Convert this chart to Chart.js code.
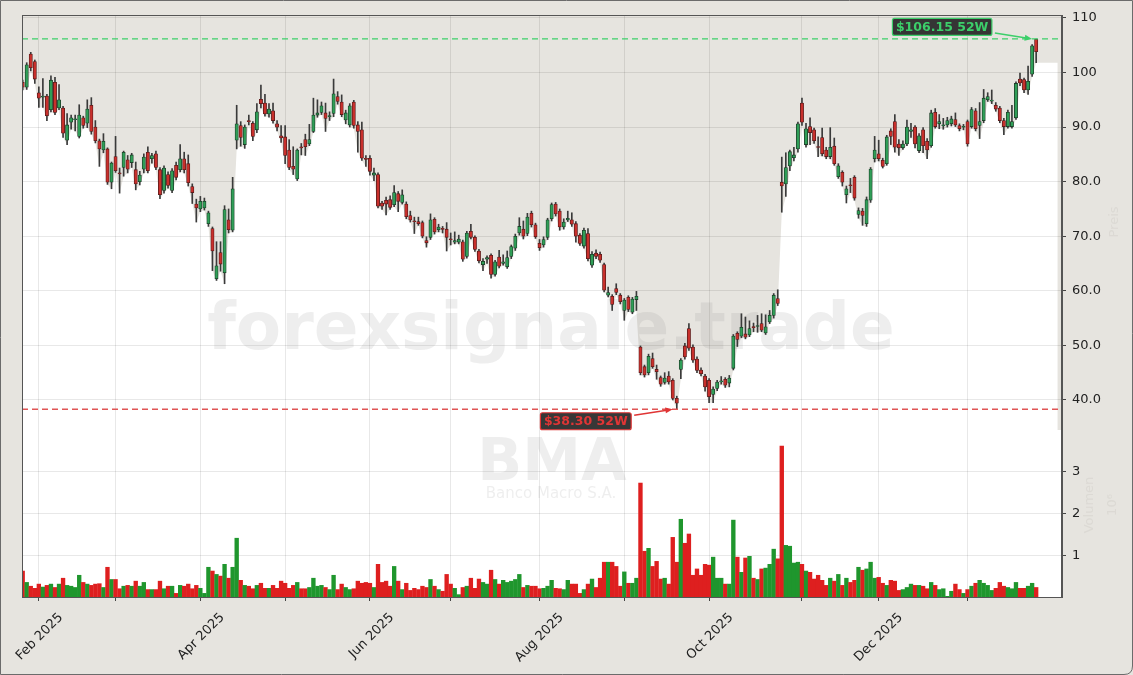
<!DOCTYPE html>
<html lang="de">
<head>
    <meta charset="UTF-8">
    <title>BMA - Banco Macro S.A.</title>
    <script src="https://cdn.jsdelivr.net/npm/chart.js"></script>
    <style>
        html, body { margin: 0; padding: 0; background: #e6e4df; }
        #wrap { width: 1133px; height: 675px; }
    </style>
</head>
<body>
<div id="wrap"><canvas id="chart" width="1133" height="675"></canvas></div>
<script>
// daily candles, 28 Jan 2025 .. 28 Jan 2026 (index = trading day)
const opens = [
    98.2, 97.3, 103.4, 102.0, 96.3, 95.5, 95.7, 93.2, 98.2, 93.5, 93.5, 87.6, 90.9, 91.4, 88.3, 91.7, 90.7, 94.0, 90.0, 87.5,
    85.8, 86.0, 79.9, 84.6, 81.6, 82.6, 84.0, 83.5, 82.2, 80.0, 82.3, 85.4, 84.2, 85.1, 82.2, 78.4, 81.3, 78.4, 83.0, 82.2,
    84.2, 83.3, 79.1, 75.9, 75.0, 75.2, 72.3, 71.4, 62.2, 67.0, 63.3, 73.0, 71.1, 87.6, 90.3, 86.8, 91.2, 90.7, 89.5, 95.1,
    94.4, 92.4, 93.0, 90.6, 88.4, 88.2, 85.8, 82.8, 80.5, 86.4, 87.7, 86.9, 89.2, 92.2, 92.7, 92.6, 91.9, 92.5, 95.6, 94.6,
    91.3, 90.4, 94.6, 90.4, 89.5, 84.3, 84.3, 81.2, 81.3, 76.1, 76.6, 76.7, 75.8, 77.8, 76.2, 75.9, 73.8, 72.8, 72.7, 72.5,
    69.2, 69.8, 73.1, 71.2, 71.4, 71.3, 69.5, 68.9, 68.9, 69.0, 66.3, 70.9, 69.8, 67.3, 64.8, 65.8, 66.5, 63.0, 66.2, 65.0,
    64.4, 66.3, 67.8, 70.6, 71.3, 70.5, 74.2, 72.1, 68.7, 68.4, 69.8, 73.2, 75.9, 74.6, 71.7, 73.0, 73.0, 72.3, 70.2, 68.2,
    70.5, 64.7, 66.9, 66.7, 64.8, 59.2, 59.0, 60.4, 59.2, 56.4, 58.8, 56.1, 58.4, 49.7, 46.1, 45.0, 47.6, 45.6, 44.1, 43.2,
    44.4, 43.6, 40.3, 45.6, 49.9, 53.1, 49.7, 47.5, 45.5, 44.4, 43.6, 41.0, 42.1, 43.3, 43.8, 43.1, 45.8, 52.2, 51.7, 52.1,
    51.9, 53.4, 53.5, 54.0, 52.3, 54.3, 55.5, 58.6, 79.9, 79.6, 82.9, 84.4, 86.0, 94.4, 86.8, 90.1, 89.5, 86.4, 88.1, 85.8,
    84.6, 86.5, 80.9, 81.7, 77.6, 79.4, 80.8, 74.0, 74.6, 72.3, 76.6, 84.2, 85.1, 83.9, 83.3, 89.3, 91.0, 86.9, 86.2, 86.9,
    89.2, 90.0, 85.7, 89.5, 87.4, 86.6, 92.7, 90.6, 90.3, 90.4, 90.6, 91.4, 90.3, 90.0, 91.0, 90.1, 93.0, 90.3, 91.2, 95.0,
    94.8, 94.0, 93.5, 91.2, 90.1, 90.1, 91.7, 98.8, 98.7, 96.8, 99.7, 106.1
];
const highs = [
    98.6, 101.8, 103.7, 102.3, 97.4, 98.9, 96.0, 99.4, 99.1, 97.8, 93.8, 92.5, 92.2, 92.2, 94.1, 92.0, 95.0, 95.4, 91.2, 87.8,
    88.8, 86.2, 83.6, 88.3, 82.5, 85.6, 84.8, 85.2, 83.6, 81.9, 85.1, 86.4, 85.2, 85.6, 82.6, 82.9, 81.8, 82.4, 83.6, 86.8,
    85.4, 84.9, 79.6, 76.8, 77.3, 77.0, 74.6, 71.7, 69.0, 69.0, 75.6, 75.0, 80.8, 94.0, 91.0, 90.4, 92.2, 91.0, 94.3, 97.7,
    96.0, 94.3, 94.4, 91.2, 90.3, 90.3, 87.7, 86.4, 86.0, 87.0, 88.7, 90.5, 95.3, 95.0, 94.6, 94.4, 92.8, 98.8, 96.5, 95.9,
    93.1, 94.3, 94.9, 91.0, 90.9, 84.8, 84.8, 82.5, 81.6, 76.4, 77.2, 77.4, 79.3, 78.2, 78.5, 76.3, 74.6, 73.5, 73.5, 72.8,
    69.9, 74.1, 73.4, 72.2, 71.8, 72.5, 70.6, 70.8, 70.2, 69.3, 70.9, 72.2, 70.1, 67.6, 65.9, 66.4, 66.8, 65.6, 67.4, 66.6,
    67.3, 68.4, 70.4, 73.4, 72.8, 74.2, 74.6, 72.4, 69.4, 69.9, 73.3, 76.1, 76.2, 75.0, 73.2, 74.6, 74.3, 72.7, 70.5, 71.5,
    71.4, 67.2, 67.5, 67.1, 65.1, 60.7, 59.3, 61.3, 59.5, 58.6, 59.1, 58.8, 59.9, 49.9, 46.4, 48.4, 48.6, 46.4, 44.4, 45.0,
    45.2, 43.9, 40.7, 47.6, 50.4, 54.0, 50.1, 47.9, 45.9, 44.7, 43.9, 42.4, 43.6, 44.3, 44.1, 44.5, 52.0, 52.5, 55.8, 55.2,
    54.5, 54.1, 55.5, 55.8, 55.6, 56.4, 59.5, 60.2, 84.5, 85.3, 85.8, 86.3, 90.9, 95.3, 90.7, 91.7, 89.8, 88.2, 89.8, 86.3,
    89.9, 88.0, 83.3, 82.0, 79.2, 80.6, 81.1, 75.2, 75.1, 77.2, 82.6, 88.3, 87.6, 84.3, 88.5, 89.7, 92.3, 87.7, 87.5, 91.3,
    90.7, 90.3, 88.8, 89.9, 87.9, 93.1, 93.4, 92.3, 91.6, 91.8, 92.0, 92.6, 90.6, 90.5, 91.3, 93.6, 93.4, 94.5, 96.9, 96.3,
    96.8, 94.5, 93.8, 91.6, 93.1, 94.0, 98.3, 99.9, 99.0, 101.2, 105.1, 106.15
];
const lows = [
    96.8, 96.9, 100.3, 98.0, 93.6, 93.6, 91.2, 92.8, 92.3, 93.2, 88.1, 86.8, 89.6, 89.3, 88.0, 89.8, 89.9, 88.7, 87.1, 82.8,
    85.3, 79.5, 78.7, 81.7, 77.9, 81.0, 81.6, 82.6, 78.5, 79.4, 81.6, 81.6, 83.4, 82.2, 76.9, 77.9, 78.8, 78.0, 80.3, 81.8,
    81.6, 79.2, 76.0, 72.6, 74.5, 74.8, 71.8, 63.7, 61.9, 63.6, 61.3, 70.6, 70.8, 86.0, 86.5, 86.1, 90.4, 87.5, 89.0, 93.5,
    92.0, 91.8, 90.7, 89.3, 87.2, 83.3, 82.2, 81.3, 80.2, 84.9, 84.8, 86.6, 89.0, 91.8, 92.3, 89.2, 91.2, 91.9, 94.2, 91.9,
    90.6, 90.0, 89.8, 85.4, 83.9, 82.8, 81.2, 80.2, 75.2, 74.9, 73.9, 74.9, 75.4, 74.5, 75.9, 73.2, 72.6, 70.5, 72.0, 69.7,
    68.0, 69.4, 70.4, 70.8, 70.6, 67.3, 68.4, 68.6, 68.6, 65.4, 66.0, 69.5, 67.2, 65.1, 63.7, 65.0, 62.3, 62.7, 64.2, 64.7,
    64.1, 65.9, 67.4, 70.2, 69.5, 70.1, 71.7, 69.6, 67.4, 68.0, 69.4, 72.8, 73.7, 71.1, 71.3, 72.7, 71.8, 68.9, 68.3, 67.8,
    65.5, 64.3, 65.9, 65.2, 59.8, 58.9, 56.4, 59.3, 57.6, 54.6, 56.2, 55.8, 56.4, 44.6, 44.2, 44.6, 45.8, 43.8, 42.5, 42.9,
    42.9, 40.0, 38.3, 43.9, 47.5, 49.1, 46.9, 45.0, 44.4, 41.6, 39.5, 39.5, 41.7, 42.9, 42.3, 42.4, 45.5, 49.8, 51.4, 51.2,
    51.6, 52.5, 52.4, 52.5, 52.0, 54.0, 55.0, 57.3, 74.4, 77.3, 82.0, 83.8, 85.4, 90.3, 86.3, 86.8, 87.0, 84.6, 84.7, 84.2,
    84.2, 83.0, 80.6, 79.2, 76.1, 78.0, 76.6, 73.3, 72.0, 71.8, 76.2, 83.6, 83.8, 82.5, 83.0, 86.8, 85.4, 84.8, 85.9, 86.6,
    88.1, 86.2, 85.3, 85.3, 84.2, 86.3, 89.8, 89.7, 89.6, 90.0, 90.2, 90.1, 89.3, 89.5, 86.5, 89.8, 89.3, 87.9, 90.8, 94.7,
    94.3, 92.9, 90.8, 88.6, 89.8, 89.8, 91.4, 97.6, 96.3, 96.0, 99.3, 101.8
];
const closes = [
    97.3, 101.4, 100.9, 98.8, 95.3, 95.7, 92.1, 98.6, 92.7, 95.0, 88.9, 90.4, 91.7, 91.5, 92.2, 90.3, 93.3, 89.2, 87.5, 86.0,
    87.4, 79.9, 83.4, 82.0, 81.4, 85.4, 82.3, 84.9, 79.6, 81.2, 84.5, 82.0, 84.8, 82.6, 77.6, 82.5, 79.3, 82.0, 80.8, 84.2,
    82.2, 79.8, 78.0, 75.2, 76.4, 76.4, 74.3, 67.3, 64.6, 64.9, 74.9, 71.2, 78.7, 90.6, 88.1, 90.0, 91.0, 88.3, 92.8, 94.3,
    92.4, 93.3, 91.2, 90.0, 88.0, 84.8, 82.6, 82.3, 85.8, 86.2, 86.4, 87.7, 92.2, 92.6, 93.9, 91.6, 92.1, 96.1, 94.7, 92.3,
    92.6, 93.9, 90.3, 89.2, 84.3, 84.1, 81.9, 81.6, 75.5, 75.5, 75.9, 75.3, 78.0, 76.4, 77.6, 73.6, 73.0, 72.7, 72.3, 70.0,
    68.8, 73.0, 70.8, 71.7, 71.3, 69.8, 69.4, 69.2, 69.5, 65.8, 70.6, 69.8, 67.6, 65.5, 65.4, 66.1, 63.0, 65.3, 64.5, 65.3,
    66.1, 68.1, 70.0, 71.8, 70.0, 73.5, 72.1, 69.9, 67.9, 69.4, 73.0, 75.8, 74.1, 71.7, 72.6, 73.3, 72.2, 70.0, 68.7, 71.1,
    65.9, 66.7, 66.3, 65.6, 60.1, 59.7, 57.5, 59.7, 58.0, 58.3, 56.6, 58.5, 59.0, 45.0, 44.6, 48.0, 46.1, 45.2, 42.9, 44.0,
    43.3, 40.3, 39.4, 47.3, 47.9, 49.5, 47.3, 45.4, 44.8, 42.4, 40.6, 42.0, 43.3, 43.5, 42.7, 44.0, 51.7, 51.1, 53.3, 51.5,
    53.1, 53.3, 53.6, 52.8, 53.4, 55.5, 59.2, 57.7, 79.2, 82.6, 85.5, 84.9, 90.6, 90.9, 89.7, 89.0, 87.5, 86.3, 85.1, 84.6,
    86.3, 83.3, 82.9, 79.9, 78.7, 79.3, 77.0, 74.7, 73.8, 76.7, 82.3, 85.8, 84.2, 82.8, 88.2, 88.3, 86.3, 86.2, 86.9, 90.0,
    89.5, 86.9, 88.4, 86.6, 85.8, 92.6, 90.1, 91.0, 90.4, 91.2, 91.5, 90.4, 89.7, 90.1, 86.9, 93.2, 89.7, 91.0, 95.3, 95.6,
    94.9, 93.3, 91.2, 90.1, 92.7, 91.0, 98.0, 98.1, 96.8, 98.4, 104.9, 103.8
];
// volume in millions of shares
const volumes = [
    0.64, 0.37, 0.28, 0.23, 0.33, 0.26, 0.30, 0.33, 0.25, 0.33, 0.47, 0.30, 0.28, 0.25, 0.54, 0.37, 0.33, 0.30, 0.33, 0.34,
    0.25, 0.73, 0.44, 0.44, 0.22, 0.28, 0.30, 0.28, 0.40, 0.28, 0.37, 0.20, 0.20, 0.20, 0.40, 0.22, 0.28, 0.28, 0.11, 0.30,
    0.28, 0.33, 0.22, 0.30, 0.23, 0.11, 0.73, 0.64, 0.56, 0.52, 0.80, 0.47, 0.73, 1.42, 0.42, 0.30, 0.28, 0.22, 0.30, 0.35,
    0.23, 0.23, 0.30, 0.23, 0.40, 0.35, 0.23, 0.30, 0.37, 0.22, 0.22, 0.25, 0.47, 0.28, 0.30, 0.25, 0.20, 0.54, 0.20, 0.33,
    0.25, 0.20, 0.22, 0.40, 0.35, 0.37, 0.35, 0.25, 0.80, 0.37, 0.40, 0.28, 0.75, 0.40, 0.20, 0.35, 0.18, 0.23, 0.20, 0.28,
    0.25, 0.44, 0.28, 0.20, 0.16, 0.56, 0.33, 0.23, 0.08, 0.25, 0.28, 0.47, 0.23, 0.45, 0.37, 0.33, 0.66, 0.44, 0.33, 0.42,
    0.37, 0.40, 0.44, 0.56, 0.25, 0.30, 0.28, 0.28, 0.22, 0.23, 0.28, 0.42, 0.23, 0.22, 0.20, 0.42, 0.33, 0.33, 0.11, 0.20,
    0.33, 0.45, 0.25, 0.47, 0.85, 0.85, 0.85, 0.75, 0.28, 0.62, 0.35, 0.35, 0.47, 2.73, 1.11, 1.18, 0.75, 0.87, 0.45, 0.47,
    0.33, 1.44, 0.85, 1.87, 1.30, 1.52, 0.54, 0.69, 0.54, 0.80, 0.78, 0.97, 0.47, 0.47, 0.33, 0.33, 1.85, 0.97, 0.61, 0.95,
    0.99, 0.47, 0.44, 0.69, 0.71, 0.80, 1.16, 0.93, 3.61, 1.25, 1.23, 0.83, 0.85, 0.80, 0.64, 0.61, 0.45, 0.54, 0.42, 0.30,
    0.47, 0.40, 0.56, 0.30, 0.47, 0.37, 0.42, 0.73, 0.66, 0.69, 0.85, 0.47, 0.49, 0.35, 0.30, 0.42, 0.40, 0.18, 0.20, 0.25,
    0.33, 0.30, 0.30, 0.28, 0.22, 0.37, 0.30, 0.20, 0.22, 0.04, 0.16, 0.33, 0.20, 0.11, 0.20, 0.28, 0.35, 0.42, 0.35, 0.30,
    0.18, 0.23, 0.37, 0.28, 0.25, 0.22, 0.37, 0.23, 0.23, 0.28, 0.35, 0.25
];

// first trading day of each month (index into the arrays above)
const monthTicks = [4, 23, 44, 65, 86, 106, 128, 149, 170, 193, 212, 234];
const monthLabels = ['Feb 2025', '', 'Apr 2025', '', 'Jun 2025', '', 'Aug 2025', '', 'Oct 2025', '', 'Dec 2025', ''];
const priceTicks = [40, 50, 60, 70, 80, 90, 100, 110];
const volumeTicks = [1, 2, 3];
const high52 = 106.15;
const low52 = 38.30;

const UP = '#2f9e57', UP_EDGE = '#1c3f28';
const DOWN = '#c8302c', DOWN_EDGE = '#5a1b1b';
const VOL_UP = '#1f962d', VOL_DOWN = '#de1f1f';
const PANEL_BG = '#e6e4df';
const FONT = 'DejaVu Sans';

Chart.defaults.font.family = FONT;

const isUp = opens.map((o, i) => closes[i] >= o);

function bodyRange(o, c) {
    let lo = Math.min(o, c), hi = Math.max(o, c);
    if (hi - lo < 0.16) {
        const m = (hi + lo) / 2;
        lo = m - 0.08; hi = m + 0.08;
    }
    return [lo, hi];
}

const panels = {
    id: 'panels',
    beforeDraw(chart) {
        const { ctx, chartArea, scales } = chart;
        const x = scales.x, y = scales.y, yv = scales.yv;
        ctx.save();
        ctx.fillStyle = PANEL_BG;
        ctx.fillRect(0, 0, chart.width, chart.height);
        ctx.fillStyle = '#ffffff';
        ctx.fillRect(chartArea.left, yv.top, chartArea.right - chartArea.left, yv.bottom - yv.top);

        // white area under the daily lows
        const last = lows.length - 1;
        ctx.beginPath();
        ctx.rect(chartArea.left, y.top, chartArea.right - chartArea.left, y.bottom - y.top);
        ctx.clip();
        ctx.beginPath();
        ctx.moveTo(x.getPixelForValue(0), y.bottom);
        lows.forEach((v, i) => ctx.lineTo(x.getPixelForValue(i), y.getPixelForValue(v)));
        ctx.lineTo(x.getPixelForValue(last + 5.3), y.getPixelForValue(lows[last]));
        ctx.lineTo(x.getPixelForValue(last + 5.3), y.bottom);
        ctx.closePath();
        ctx.fill();
        ctx.restore();
    },
    beforeDatasetsDraw(chart) {
        const { ctx } = chart;
        ctx.save();
        ctx.textAlign = 'center';
        ctx.textBaseline = 'middle';
        ctx.fillStyle = 'rgba(120,120,120,0.13)';
        ctx.font = 'bold 66px ' + FONT;
        ctx.fillText('forexsignale.trade', 551, 332);
        ctx.font = 'bold 59px ' + FONT;
        ctx.fillText('BMA', 552, 465);
        ctx.font = '15px ' + FONT;
        ctx.fillText('Banco Macro S.A.', 551, 494);

        // faint axis titles
        ctx.fillStyle = 'rgba(200,198,192,0.35)';
        ctx.font = '13px ' + FONT;
        ctx.translate(1115, 222);
        ctx.rotate(-Math.PI / 2);
        ctx.fillText('Preis', 0, 0);
        ctx.setTransform(1, 0, 0, 1, 0, 0);
        ctx.translate(1090, 505);
        ctx.rotate(-Math.PI / 2);
        ctx.fillText('Volumen', 0, 0);
        ctx.fillText('10⁶', 0, 23);
        ctx.restore();
    },
    afterDatasetsDraw(chart) {
        const { ctx, chartArea, scales } = chart;
        const x = scales.x, y = scales.y;
        ctx.save();
        // 52 week high / low lines
        [[high52, '#3ccf6a'], [low52, '#e05555']].forEach(([v, col]) => {
            const py = y.getPixelForValue(v);
            ctx.strokeStyle = col;
            ctx.lineWidth = 1.3;
            ctx.setLineDash([6, 4]);
            ctx.beginPath();
            ctx.moveTo(chartArea.left, py);
            ctx.lineTo(chartArea.right, py);
            ctx.stroke();
        });
        ctx.setLineDash([]);

        const iHigh = highs.indexOf(Math.max(...highs));
        const iLow = lows.indexOf(Math.min(...lows));
        tag(ctx, '$' + high52.toFixed(2) + ' 52W', '#3ccf6a',
            x.getPixelForValue(iHigh) - 4, y.getPixelForValue(high52), -90, -12);
        tag(ctx, '$' + low52.toFixed(2) + ' 52W', '#e03535',
            x.getPixelForValue(iLow) - 4, y.getPixelForValue(low52), -87, 12);
        ctx.restore();
    },
    afterDraw(chart) {
        const { ctx, chartArea } = chart;
        ctx.save();
        ctx.strokeStyle = '#555';
        ctx.lineWidth = 1;
        ctx.strokeRect(chartArea.left + 0.5, chartArea.top + 0.5,
            chartArea.right - chartArea.left - 1, chartArea.bottom - chartArea.top);
        // figure frame
        ctx.strokeStyle = '#6b6b6b';
        ctx.beginPath();
        ctx.moveTo(0.5, 0.5);
        ctx.lineTo(1132.5, 0.5);
        ctx.lineTo(1132.5, 666);
        ctx.quadraticCurveTo(1132.5, 674.5, 1124, 674.5);
        ctx.lineTo(0.5, 674.5);
        ctx.closePath();
        ctx.stroke();
        ctx.restore();
    }
};

function tag(ctx, text, col, tipX, tipY, dx, dy) {
    const cx = tipX + dx, cy = tipY + dy;
    ctx.font = 'bold 12.5px ' + FONT;
    const w = ctx.measureText(text).width + 7, h = 17;
    const bx = cx - w / 2, by = cy - h / 2;
    ctx.fillStyle = 'rgba(38,38,38,0.92)';
    ctx.strokeStyle = col;
    ctx.lineWidth = 1.2;
    ctx.beginPath();
    ctx.roundRect(bx, by, w, h, 2);
    ctx.fill();
    ctx.stroke();
    ctx.fillStyle = col;
    ctx.textAlign = 'center';
    ctx.textBaseline = 'middle';
    ctx.fillText(text, cx, cy + 0.5);

    // arrow from the box to the extreme
    const sx = bx + w + 3, sy = cy + (dy < 0 ? 6 : -6);
    const ang = Math.atan2(tipY - sy, tipX - sx);
    ctx.strokeStyle = col;
    ctx.lineWidth = 1.6;
    ctx.beginPath();
    ctx.moveTo(sx, sy);
    ctx.lineTo(tipX - 6 * Math.cos(ang), tipY - 6 * Math.sin(ang));
    ctx.stroke();
    ctx.beginPath();
    ctx.moveTo(tipX, tipY);
    ctx.lineTo(tipX - 8 * Math.cos(ang - 0.38), tipY - 8 * Math.sin(ang - 0.38));
    ctx.lineTo(tipX - 8 * Math.cos(ang + 0.38), tipY - 8 * Math.sin(ang + 0.38));
    ctx.closePath();
    ctx.fill();
}

const tickFont = { family: FONT, size: 13 };

new Chart(document.getElementById('chart'), {
    type: 'bar',
    data: {
        datasets: [
            {
                // candle bodies
                yAxisID: 'y',
                data: opens.map((o, i) => ({ x: i, y: bodyRange(o, closes[i]) })),
                backgroundColor: isUp.map(u => u ? UP : DOWN),
                borderColor: isUp.map(u => u ? UP_EDGE : DOWN_EDGE),
                borderWidth: 0.8,
                borderSkipped: false,
                barThickness: 3.3,
                grouped: false
            },
            {
                // wicks
                yAxisID: 'y',
                data: lows.map((l, i) => ({ x: i, y: [l, highs[i]] })),
                backgroundColor: '#3a3a3a',
                barThickness: 1,
                grouped: false
            },
            {
                yAxisID: 'yv',
                data: volumes.map((v, i) => ({ x: i, y: v })),
                backgroundColor: isUp.map(u => u ? VOL_UP : VOL_DOWN),
                barThickness: 3.7,
                grouped: false
            }
        ]
    },
    options: {
        responsive: false,
        animation: false,
        devicePixelRatio: 1,
        layout: { padding: { left: 22, top: 15, right: 0, bottom: 0 } },
        plugins: { legend: { display: false }, tooltip: { enabled: false } },
        scales: {
            x: {
                type: 'linear',
                min: -0.17,
                max: 257.4,
                offset: false,
                afterBuildTicks: s => { s.ticks = monthTicks.map(v => ({ value: v })); },
                afterFit: s => { s.height = 78; s.paddingLeft = 0; s.paddingRight = 0; },
                ticks: {
                    autoSkip: false,
                    maxRotation: 45,
                    minRotation: 45,
                    labelOffset: 22,
                    padding: 9,
                    color: '#222',
                    font: tickFont,
                    callback: (v, i) => monthLabels[i]
                },
                grid: { offset: false, color: 'rgba(0,0,0,0.09)', tickLength: 4, tickColor: '#444' },
                border: { color: '#555' }
            },
            y: {
                type: 'linear',
                position: 'right',
                stack: 'panes',
                stackWeight: 415,
                min: 34.5,
                max: 110.54,
                afterBuildTicks: s => { s.ticks = priceTicks.map(v => ({ value: v })); },
                afterFit: s => { s.width = 71; },
                ticks: {
                    padding: 6,
                    color: '#222',
                    font: tickFont,
                    callback: v => v >= 100 ? v.toFixed(0) : v.toFixed(1)
                },
                grid: { color: 'rgba(0,0,0,0.09)', tickLength: 4, tickColor: '#444' },
                border: { color: '#555' }
            },
            yv: {
                type: 'linear',
                position: 'right',
                stack: 'panes',
                stackWeight: 167,
                min: 0.024,
                max: 3.99,
                afterBuildTicks: s => { s.ticks = volumeTicks.map(v => ({ value: v })); },
                afterFit: s => { s.width = 71; },
                ticks: { padding: 6, color: '#222', font: tickFont, callback: v => String(v) },
                grid: { color: 'rgba(0,0,0,0.09)', tickLength: 4, tickColor: '#444' },
                border: { color: '#555' }
            }
        }
    },
    plugins: [panels]
});
</script>
</body>
</html>
